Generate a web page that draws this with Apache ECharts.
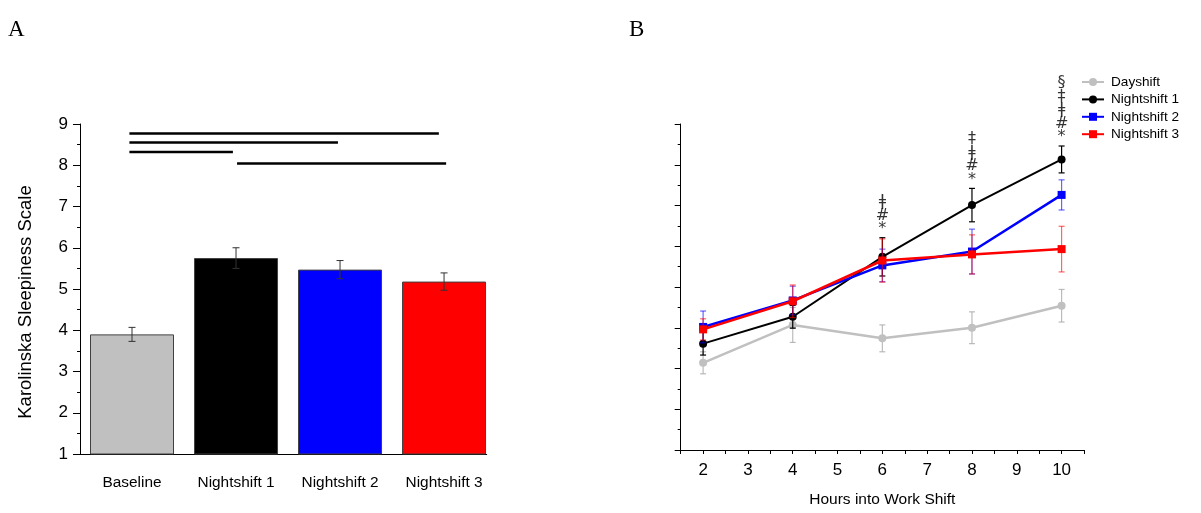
<!DOCTYPE html>
<html>
<head>
<meta charset="utf-8">
<script src="https://cdn.jsdelivr.net/npm/echarts@6/dist/echarts.min.js"></script>
<style>html,body{margin:0;padding:0;background:#fff}#c{width:1201px;height:513px}</style>
</head>
<body>
<div id="c"></div>
<script>
// ---- Panel A data ----
const barCategories = ['Baseline', 'Nightshift 1', 'Nightshift 2', 'Nightshift 3'];
const barMeans = [3.90, 5.75, 5.47, 5.18];
const barErrors = [0.17, 0.25, 0.22, 0.21];
// significance bars: [from position, to position, level]
const sigBars = [[0.975, 3.95, 8.77], [0.975, 2.98, 8.55], [0.975, 1.97, 8.32], [2.01, 4.02, 8.04]];

// ---- Panel B data ----
const hours = [2, 4, 6, 8, 10];
const seriesNames = ['Dayshift', 'Nightshift 1', 'Nightshift 2', 'Nightshift 3'];
const dayshift = [3.14, 4.07, 3.74, 4.00, 4.54];
const dayshiftErr = [0.27, 0.43, 0.33, 0.39, 0.40];
const night1 = [3.61, 4.27, 5.74, 7.01, 8.13];
const night1Err = [0.28, 0.28, 0.47, 0.41, 0.33];
const night2 = [4.02, 4.67, 5.53, 5.87, 7.26];
const night2Err = [0.39, 0.35, 0.40, 0.55, 0.37];
const night3 = [3.96, 4.65, 5.65, 5.80, 5.93];
const night3Err = [0.26, 0.40, 0.53, 0.48, 0.56];
const annotations = ['', '', 'ǂ\n#\n*', '‡\nǂ\n#\n*', '§\n‡\nǂ\n#\n*'];
const yTicks = [1, 9];

// ---- styles ----
const barColors = ['#c0c0c0', '#000000', '#0000ff', '#ff0000'];
const lineColors = ['#c0c0c0', '#000000', '#0000ff', '#ff0000'];
const errColors = ['rgba(170,170,170,0.8)', '#000000', 'rgba(0,0,255,0.6)', 'rgba(255,0,0,0.6)'];
const symbols = ['circle', 'circle', 'rect', 'rect'];
const FONT = 'Liberation Sans, Arial, sans-serif';

function errRender(color, hw, lw) {
  return function (params, api) {
    const x = api.value(0), y = api.value(1), e = api.value(2);
    const t = api.coord([x, y + e]);
    const b = api.coord([x, y - e]);
    const st = { stroke: color, lineWidth: lw, fill: null };
    return {
      type: 'group',
      children: [
        { type: 'line', shape: { x1: t[0], y1: t[1], x2: b[0], y2: b[1] }, style: st },
        { type: 'line', shape: { x1: t[0] - hw, y1: t[1], x2: t[0] + hw, y2: t[1] }, style: st },
        { type: 'line', shape: { x1: b[0] - hw, y1: b[1], x2: b[0] + hw, y2: b[1] }, style: st }
      ]
    };
  };
}

const series = [];
// Panel A bars
series.push({
  type: 'bar', xAxisIndex: 0, yAxisIndex: 0, barWidth: 84, clip: true,
  data: barMeans.map((v, i) => ({ value: [i + 1, v], itemStyle: { color: barColors[i], borderColor: '#404040', borderWidth: 1 } })),
  z: 2
});
series.push({
  type: 'custom', xAxisIndex: 0, yAxisIndex: 0, z: 3,
  renderItem: errRender('#333', 3.5, 1),
  encode: { x: 0, y: 1 },
  data: barMeans.map((v, i) => [i + 1, v, barErrors[i]])
});
sigBars.forEach(s => {
  series.push({
    type: 'line', xAxisIndex: 0, yAxisIndex: 0, symbol: 'none', silent: true,
    lineStyle: { color: '#000', width: 2.5 },
    data: [[s[0], s[2]], [s[1], s[2]]]
  });
});

// Panel B
const bData = [dayshift, night1, night2, night3];
const bErr = [dayshiftErr, night1Err, night2Err, night3Err];
bData.forEach((d, k) => {
  series.push({
    type: 'custom', xAxisIndex: 1, yAxisIndex: 1, z: 2 + k * 2,
    renderItem: errRender(errColors[k], 3, 1.2),
    encode: { x: 0, y: 1 },
    data: hours.map((h, i) => [h, d[i], bErr[k][i]])
  });
  series.push({
    name: seriesNames[k], type: 'line', xAxisIndex: 1, yAxisIndex: 1, z: 3 + k * 2,
    symbol: symbols[k], symbolSize: 8,
    itemStyle: { color: lineColors[k] },
    lineStyle: { color: lineColors[k], width: k === 1 ? 2 : 2.5 },
    data: hours.map((h, i) => [h, d[i]])
  });
});
// annotations above Nightshift 1 error bars
series.push({
  type: 'scatter', xAxisIndex: 1, yAxisIndex: 1, symbolSize: 0, z: 20, silent: true,
  data: hours.map((h, i) => ({ value: [h, night1[i] + night1Err[i]], label: { formatter: annotations[i] } })),
  label: { show: true, position: 'top', distance: 2, color: '#000', fontSize: 16, lineHeight: 13.5, fontFamily: 'DejaVu Sans, Liberation Sans, sans-serif' }
});

const option = {
  animation: false,
  backgroundColor: '#fff',
  textStyle: { fontFamily: FONT },
  graphic: [
    { type: 'text', left: 8, top: 18, style: { text: 'A', font: '23px "Liberation Serif", "Times New Roman", serif', fill: '#000' } },
    { type: 'text', left: 629, top: 18, style: { text: 'B', font: '23px "Liberation Serif", "Times New Roman", serif', fill: '#000' } }
  ],
  legend: {
    orient: 'vertical', left: 1076, top: 70, itemWidth: 22, itemHeight: 10, itemGap: 3.4,
    data: seriesNames,
    textStyle: { fontSize: 13.6, color: '#000', fontFamily: FONT, padding: [0, 0, 0, 2] },
    selectedMode: false
  },
  grid: [
    { left: 80, top: 124, width: 406.7, height: 330 },
    { left: 680.7, top: 124, width: 403.3, height: 330 }
  ],
  xAxis: [
    {
      type: 'value', gridIndex: 0, min: 0.5, max: 4.41, interval: 0.5,
      splitLine: { show: false }, axisTick: { show: false },
      axisLine: { lineStyle: { color: '#000', width: 1 } },
      axisLabel: {
        margin: 21, fontSize: 15.4, color: '#000', fontFamily: FONT,
        formatter: v => (Number.isInteger(v) && v >= 1 && v <= 4) ? barCategories[v - 1] : ''
      }
    },
    {
      type: 'value', gridIndex: 1, min: 1.5, max: 10.5, interval: 0.5,
      name: 'Hours into Work Shift', nameLocation: 'middle', nameGap: 42,
      nameTextStyle: { fontSize: 15.5, color: '#000', fontFamily: FONT },
      splitLine: { show: false },
      axisLine: { lineStyle: { color: '#000', width: 1 } },
      axisTick: { length: 4, lineStyle: { color: '#000' } },
      axisLabel: {
        margin: 12, fontSize: 17, color: '#000', fontFamily: FONT,
        formatter: v => Number.isInteger(v) ? String(v) : ''
      }
    }
  ],
  yAxis: [
    {
      type: 'value', gridIndex: 0, min: yTicks[0], max: yTicks[1], interval: 1,
      name: 'Karolinska Sleepiness Scale', nameLocation: 'middle', nameGap: 45,
      nameTextStyle: { fontSize: 18.5, color: '#000', fontFamily: FONT, padding: [0, 26, 0, 0] },
      splitLine: { show: false },
      axisLine: { show: true, lineStyle: { color: '#000', width: 1 } },
      axisTick: { show: true, length: 7, lineStyle: { color: '#000' } },
      minorTick: { show: true, splitNumber: 2, length: 3, lineStyle: { color: '#000' } },
      axisLabel: { margin: 12, fontSize: 17, color: '#000', fontFamily: FONT }
    },
    {
      type: 'value', gridIndex: 1, min: yTicks[0], max: yTicks[1], interval: 1,
      splitLine: { show: false },
      axisLine: { show: true, lineStyle: { color: '#000', width: 1 } },
      axisTick: { show: true, length: 6, lineStyle: { color: '#000' } },
      minorTick: { show: true, splitNumber: 2, length: 3, lineStyle: { color: '#000' } },
      axisLabel: { show: false }
    }
  ],
  series: series
};

const chart = echarts.init(document.getElementById('c'), null, { renderer: 'canvas' });
chart.setOption(option);
</script>
</body>
</html>
